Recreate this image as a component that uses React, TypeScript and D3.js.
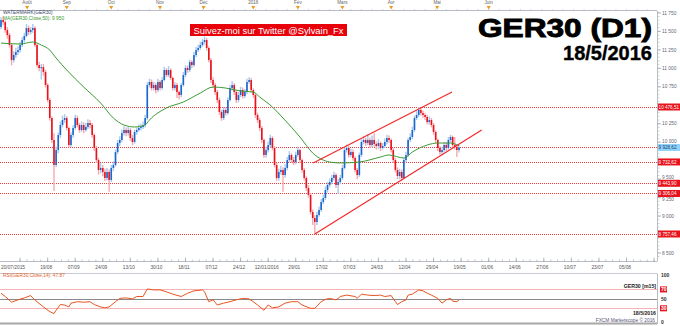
import React from 'react';
import * as d3 from 'd3';

// ---------- DATA ----------
const firstOpen = 11560;
const closes = [
  11653, 11626, 11518, 11450, 11315, 11112, 11180, 11220, 11247, 11315,
  11383, 11437, 11545, 11491, 11518, 11545, 11315, 11044, 11004, 11017,
  10950, 10774, 10571, 10327, 10030, 9691, 9894, 10098, 10233, 10300,
  10327, 10192, 9962, 10098, 10192, 10327, 10233, 10165, 10233, 10165,
  10206, 10260, 10233, 10098, 9922, 9759, 9624, 9651, 9597, 9516,
  9597, 9489, 9651, 9691, 9867, 9989, 10030, 10124, 10165, 10124,
  10165, 10057, 10003, 10138, 10165, 10192, 10206, 10233, 10327, 10774,
  10815, 10733, 10774, 10706, 10815, 10733, 10842, 10977, 10909, 10977,
  10869, 10733, 10774, 10679, 10639, 10774, 10909, 11004, 10977, 11085,
  11044, 11180, 11247, 11275, 11315, 11356, 11383, 11275, 11112, 10842,
  10774, 10679, 10571, 10409, 10327, 10436, 10395, 10571, 10733, 10774,
  10679, 10571, 10639, 10706, 10625, 10679, 10815, 10842, 10706, 10639,
  10368, 10300, 10192, 10030, 9827, 9894, 9962, 10057, 9922, 9691,
  9516, 9597, 9624, 9556, 9651, 9759, 9827, 9759, 9732, 9827,
  9894, 9759, 9624, 9516, 9380, 9286, 9056, 8974, 8920, 9015,
  9083, 9191, 9245, 9353, 9421, 9461, 9516, 9556, 9421, 9461,
  9516, 9651, 9894, 9922, 9827, 9867, 9786, 9624, 9556, 9827,
  10003, 10030, 9989, 10030, 9962, 10030, 9976, 9949, 9989, 9922,
  9949, 10003, 10057, 10030, 9894, 9759, 9624, 9543, 9597, 9516,
  9759, 9827, 10030, 10070, 10165, 10327, 10368, 10436, 10395, 10368,
  10341, 10273, 10300, 10233, 10138, 10030, 9922, 9867, 9894, 9962,
  9922, 10030, 10070, 9962, 9935, 9894, 9929
];
const highs = [
  11690, 11700, 11650, 11560, 11480, 11340, 11230, 11280, 11300, 11360,
  11420, 11480, 11600, 11580, 11560, 11600, 11570, 11340, 11090, 11060,
  11060, 10980, 10800, 10600, 10350, 10120, 9940, 10130, 10280, 10360,
  10380, 10350, 10210, 10130, 10230, 10370, 10360, 10260, 10280, 10270,
  10260, 10310, 10300, 10260, 10120, 9950, 9790, 9720, 9690, 9640,
  9650, 9630, 9690, 9740, 9900, 10030, 10080, 10170, 10220, 10200,
  10210, 10190, 10100, 10170, 10200, 10240, 10250, 10280, 10370, 10810,
  10860, 10850, 10820, 10800, 10860, 10840, 10880, 11020, 11000, 11030,
  11000, 10890, 10810, 10800, 10700, 10800, 10950, 11040, 11040, 11120,
  11110, 11220, 11290, 11320, 11360, 11400, 11430, 11410, 11300, 11140,
  10880, 10800, 10710, 10600, 10440, 10480, 10470, 10610, 10770, 10830,
  10800, 10700, 10680, 10750, 10740, 10720, 10860, 10880, 10870, 10730,
  10660, 10400, 10330, 10220, 10050, 9940, 10010, 10100, 10080, 9950,
  9720, 9640, 9680, 9660, 9700, 9800, 9880, 9850, 9800, 9870,
  9940, 9910, 9780, 9650, 9540, 9420, 9310, 9090, 9010, 9060,
  9130, 9230, 9290, 9400, 9460, 9510, 9560, 9600, 9580, 9500,
  9560, 9690, 9930, 9970, 9950, 9910, 9900, 9810, 9650, 9860,
  10040, 10080, 10060, 10110, 10060, 10090, 10120, 10010, 10040, 10010,
  9990, 10050, 10100, 10090, 10050, 9920, 9790, 9660, 9640, 9630,
  9790, 9870, 10060, 10120, 10210, 10360, 10420, 10476, 10470, 10430,
  10400, 10370, 10350, 10330, 10260, 10160, 10050, 9950, 9940, 10000,
  10000, 10070, 10100, 10090, 10070, 9960, 9960
];
const lows = [
  11530, 11590, 11480, 11400, 11280, 11040, 11080, 11140, 11180, 11210,
  11290, 11350, 11420, 11450, 11460, 11480, 11290, 11010, 10960, 10850,
  10900, 10740, 10540, 10290, 9990, 9340, 9660, 9850, 10060, 10200,
  10260, 10160, 9930, 9940, 10060, 10170, 10200, 10130, 10140, 10120,
  10140, 10180, 10190, 10060, 9880, 9720, 9560, 9580, 9540, 9470,
  9480, 9330, 9460, 9610, 9670, 9840, 9950, 10000, 10090, 10080,
  10090, 10020, 9960, 9980, 10100, 10140, 10160, 10180, 10200, 10300,
  10740, 10700, 10700, 10660, 10680, 10700, 10710, 10820, 10880, 10880,
  10840, 10700, 10700, 10600, 10580, 10610, 10750, 10880, 10940, 10950,
  11000, 11020, 11150, 11220, 11250, 11290, 11320, 11240, 11080, 10800,
  10730, 10640, 10530, 10370, 10290, 10300, 10360, 10370, 10550, 10700,
  10640, 10530, 10540, 10610, 10590, 10600, 10650, 10790, 10670, 10600,
  10330, 10260, 10150, 9990, 9790, 9790, 9860, 9930, 9890, 9660,
  9480, 9480, 9560, 9330, 9520, 9620, 9730, 9720, 9690, 9700,
  9800, 9720, 9590, 9480, 9340, 9250, 9020, 8880, 8757, 8880,
  8990, 9060, 9160, 9220, 9320, 9390, 9430, 9480, 9380, 9300,
  9430, 9490, 9630, 9860, 9790, 9800, 9750, 9590, 9500, 9530,
  9800, 9970, 9950, 9960, 9920, 9930, 9940, 9900, 9910, 9880,
  9900, 9920, 9970, 9990, 9860, 9720, 9590, 9500, 9500, 9480,
  9500, 9730, 9800, 10000, 10040, 10140, 10300, 10340, 10360, 10330,
  10300, 10240, 10240, 10200, 10100, 9990, 9880, 9830, 9820, 9860,
  9880, 9900, 10000, 9930, 9900, 9800, 9860
];

// 50-day moving average, read at selected bars
const maIdx = [0, 9, 15, 19, 23, 26, 31, 39, 47, 53, 58, 63, 68, 70, 78, 86, 94, 100, 106, 113, 119, 122, 128, 133, 141, 147, 155, 160, 169, 179, 183, 190, 194, 201, 206, 212, 216];
const maVal = [11342, 11329, 11356, 11315, 11247, 11139, 10977, 10747, 10530, 10327, 10233, 10206, 10233, 10300, 10463, 10544, 10666, 10747, 10733, 10693, 10679, 10612, 10476, 10327, 10070, 9854, 9732, 9719, 9732, 9800, 9827, 9786, 9867, 9962, 9989, 9989, 9950];

// RSI(14), read at selected bars
const rsiIdx = [0, 2, 5, 8, 11, 14, 15, 17, 20, 23, 25, 26, 28, 30, 32, 33, 36, 39, 42, 44, 47, 49, 51, 54, 56, 59, 62, 64, 67, 69, 72, 75, 78, 81, 85, 88, 91, 95, 96, 98, 100, 102, 105, 108, 111, 114, 117, 119, 121, 124, 126, 128, 131, 134, 137, 140, 142, 146, 148, 151, 153, 155, 158, 159, 160, 163, 167, 168, 170, 173, 176, 179, 181, 184, 186, 187, 189, 191, 192, 194, 197, 199, 201, 203, 206, 208, 210, 212, 213, 215, 216];
const rsiVal = [62, 55, 43, 48, 52, 57, 52, 44, 33, 23, 19, 26, 38, 37, 33, 41, 44, 43, 44, 38, 33, 31, 33, 44, 51, 52, 50, 55, 55, 71, 69, 69, 65, 60, 55, 62, 67, 69, 65, 44, 48, 37, 41, 44, 48, 51, 50, 44, 37, 26, 37, 31, 33, 41, 44, 44, 37, 30, 30, 44, 49, 51, 48, 51, 55, 58, 55, 51, 60, 58, 57, 58, 55, 57, 44, 38, 44, 48, 58, 60, 69, 67, 62, 58, 51, 41, 48, 51, 45, 44, 48];

const levels = [10476.51, 9928.62, 9732.62, 9443.90, 9306.04, 8757.46];
const currentLevel = 9928.62;

const channelUpper = [[147.2, 9719], [212.7, 10679]];
const channelLower = [[148, 8757], [226.7, 10165]];

const monthLabels = ['Août', 'Sep', 'Oct', 'Nov', 'Déc', '2016', 'Fév', 'Mars', 'Avr', 'Mai', 'Juin'];
const monthIdx = [12.3, 31, 52, 75, 95.5, 119, 140, 161, 184, 205.7, 230];

const firstDateLabel = '20/07/2015';
const dateLabels = ['19/08', '07/09', '24/09', '13/10', '30/10', '18/11', '07/12', '24/12', '12/01/2016', '29/01', '17/02', '07/03', '24/03', '12/04', '29/04', '19/05', '01/06', '14/06', '27/06', '10/07', '23/07', '05/08'];

const rsiLevels = [70, 50, 30];

// ---------- LAYOUT ----------
const W = 680, H = 326;
const PR = 657; // plot right
const PT = 11, PB = 258;
const FONT = "'Liberation Sans', Arial, sans-serif";

const fmtLevel = (v: number) => {
  const s = v.toFixed(2).split('.');
  return d3.format(',')(+s[0]).replace(/,/g, ' ') + ',' + s[1];
};
const fmtTick = (v: number) => d3.format(',')(v).replace(/,/g, ' ');
const crisp = (v: number) => Math.round(v) + 0.5;

export default function App() {
  const x = d3.scaleLinear().domain([0, closes.length - 1]).range([1, 459]);
  const y = d3.scaleLinear().domain([8757.46, 10476.51]).range([234, 107]);
  const ry = d3.scaleLinear().domain([0, 100]).range([322.5, 275.25]);

  const maLine = d3.line<number>().x((_, i) => x(maIdx[i])).y(d => y(d)).curve(d3.curveMonotoneX)(maVal) || '';
  const rsiLine = d3.line<number>().x((_, i) => x(rsiIdx[i])).y(d => ry(d))(rsiVal) || '';
  const chan = (pts: number[][]) => d3.line<number[]>().x(p => x(p[0])).y(p => y(p[1]))(pts) || '';

  const priceTicks = d3.range(8500, 11751, 250);
  const minorTicks = d3.range(8450, 11800, 50);
  const dateTicks = d3.range(9, 320, 13).filter(i => x(i) < PR);
  const dateMinor = d3.range(9, 320, 13 / 4).filter(i => x(i) < PR && x(i) > 0);
  const weekTicks = d3.range(0, 320, 5).filter(i => x(i) < PR);

  const tickLabelY = (v: number): number | null => {
    const ty = y(v);
    let best: number | null = ty;
    for (const lv of levels) {
      const ly = y(lv);
      const d = ty - ly;
      if (Math.abs(d) < 3.6) return null;
      if (Math.abs(d) < 6.2) best = ly + Math.sign(d) * 6.2;
    }
    return best;
  };

  return (
    <svg width={W} height={H} style={{ position: 'fixed', left: 0, top: 0, background: '#fff' }} fontFamily={FONT}>
      <defs>
        <clipPath id="plot"><rect x={0} y={PT} width={PR} height={PB - PT} /></clipPath>
      </defs>
      <rect x={0} y={0} width={W} height={H} fill="#fff" />

      {/* top month strip */}
      <line x1={0} x2={PR} y1={10.5} y2={10.5} stroke="#b8bcc4" strokeWidth={1} />
      {weekTicks.map((i, k) => (
        <line key={'wt' + k} x1={x(i)} x2={x(i)} y1={10.5} y2={9} stroke="#b8bcc4" strokeWidth={0.6} />
      ))}
      {monthLabels.map((m, k) => (
        <g key={'m' + k}>
          <text x={x(monthIdx[k])} y={4} fontSize={4.6} fill="#666" textAnchor="middle">{m}</text>
          <path d={`M${x(monthIdx[k]) - 2},6 L${x(monthIdx[k]) + 2},6 L${x(monthIdx[k])},9.5 Z`} fill="#f29a1d" />
        </g>
      ))}

      {/* level lines */}
      {levels.map((v, k) => (
        <line key={'lv' + k} x1={0} x2={PR} y1={crisp(y(v))} y2={crisp(y(v))} stroke="#f03a3a" strokeWidth={1} strokeDasharray="1 1" />
      ))}

      <g clipPath="url(#plot)">
        {/* candles */}
        {closes.map((c, i) => {
          const o = i === 0 ? firstOpen : closes[i - 1];
          const up = c >= o;
          const top = y(Math.max(o, c));
          const bot = y(Math.min(o, c));
          const cx = x(i);
          return (
            <g key={'c' + i}>
              <line x1={cx} x2={cx} y1={y(highs[i])} y2={y(lows[i])} stroke={up ? '#a9c9ee' : '#f6a9ae'} strokeWidth={1.4} />
              <rect x={cx - 0.8} y={top} width={1.6} height={Math.max(1, bot - top)} fill={up ? '#1a66cc' : '#e8121c'} />
            </g>
          );
        })}
        {/* MA */}
        <path d={maLine} fill="none" stroke="#3c9a33" strokeWidth={1} />
        {/* channel */}
        <path d={chan(channelUpper)} fill="none" stroke="#f22a2a" strokeWidth={1.2} />
        <path d={chan(channelLower)} fill="none" stroke="#f22a2a" strokeWidth={1.2} />
      </g>

      {/* top-left labels */}
      <text x={3} y={14} fontSize={4.8} fill="#3a4a6a">WATERMARK(GER30)</text>
      <text x={3} y={20} fontSize={4.8} fill="#3c9a33">MA(GER30,Close,50): 9 950</text>

      {/* twitter box */}
      <rect x={190} y={24} width={157} height={12} fill="#e8000b" />
      <text x={268.5} y={33.5} fontSize={9.4} fill="#fff" textAnchor="middle">Suivez-moi sur Twitter @Sylvain_Fx</text>

      {/* title */}
      <text x={652} y={37} fontSize={26} fontWeight="bold" textAnchor="end" fill="#000" stroke="#000" strokeWidth={0.9}
        textLength={174} lengthAdjust="spacingAndGlyphs">GER30 (D1)</text>
      <text x={652} y={60} fontSize={20} fontWeight="bold" textAnchor="end" fill="#000" stroke="#000" strokeWidth={0.4}>18/5/2016</text>

      {/* right price axis */}
      <line x1={PR + 0.5} x2={PR + 0.5} y1={PT} y2={261.5} stroke="#b8bcc4" strokeWidth={1} />
      {minorTicks.filter(v => y(v) > PT && y(v) < PB).map((v, k) => (
        <line key={'mt' + k} x1={PR + 1} x2={PR + 2.5} y1={y(v)} y2={y(v)} stroke="#9aa" strokeWidth={0.5} />
      ))}
      {priceTicks.map((v, k) => {
        const ly = tickLabelY(v);
        return (
          <g key={'pt' + k}>
            <line x1={PR + 1} x2={PR + 4} y1={y(v)} y2={y(v)} stroke="#889" strokeWidth={0.6} />
            {ly !== null && <text x={PR + 5} y={ly + 1.7} fontSize={4.8} fill="#667">{fmtTick(v)}</text>}
          </g>
        );
      })}
      {levels.map((v, k) => {
        const cur = v === currentLevel;
        return (
          <g key={'lb' + k}>
            <rect x={PR + 1} y={y(v) - 3.5} width={W - PR - 1} height={7} fill={cur ? '#8fd4f8' : '#e8121c'} />
            <text x={PR + 1.6} y={y(v) + 1.7} fontSize={4.6} fill={cur ? '#1a3a7a' : '#fff'}>{fmtLevel(v)}</text>
          </g>
        );
      })}

      {/* date axis */}
      <line x1={0} x2={PR} y1={261.5} y2={261.5} stroke="#b8bcc4" strokeWidth={1} />
      {dateMinor.map((i, k) => (
        <line key={'dm' + k} x1={x(i)} x2={x(i)} y1={261.5} y2={259.5} stroke="#9aa0a8" strokeWidth={0.6} />
      ))}
      {dateTicks.map((i, k) => (
        <line key={'dt' + k} x1={x(i)} x2={x(i)} y1={261.5} y2={257.5} stroke="#9aa0a8" strokeWidth={0.7} />
      ))}
      <text x={1} y={269} fontSize={4.8} fill="#555">{firstDateLabel}</text>
      {dateLabels.map((d, k) => (
        <text key={'dl' + k} x={x(dateTicks[k + 1]) - 1.5} y={269} fontSize={4.8} fill="#555" textAnchor="middle">{d}</text>
      ))}

      {/* RSI panel */}
      <line x1={0} x2={PR} y1={273.5} y2={273.5} stroke="#c8ccd2" strokeWidth={1} />
      <text x={3} y={277} fontSize={4.8} fill="#e0602a">RSI(GER30,Close,14): 47.87</text>
      {rsiLevels.map((v, k) => (
        <line key={'rl' + k} x1={0} x2={PR} y1={crisp(ry(v))} y2={crisp(ry(v))} stroke={v === 50 ? '#8a8a8a' : '#f7b4b4'} strokeWidth={1} />
      ))}
      <line x1={0} x2={PR} y1={323.5} y2={323.5} stroke="#a8a8a8" strokeWidth={2} />
      <path d={rsiLine} fill="none" stroke="#e8531f" strokeWidth={1} />
      <line x1={PR + 0.5} x2={PR + 0.5} y1={273.5} y2={324} stroke="#b8bcc4" strokeWidth={1} />
      <text x={PR - 1} y={288} fontSize={5.2} fontWeight="bold" fill="#222" textAnchor="end">GER30 [m15]</text>
      <text x={PR - 1} y={315} fontSize={5.2} fontWeight="bold" fill="#222" textAnchor="end">18/5/2016</text>
      <text x={PR - 2} y={322} fontSize={4.8} fill="#557" textAnchor="end">FXCM Marketscope © 2016</text>
      {[100, 70, 50, 30, 0].map((v, k) => {
        const box = v === 70 || v === 30;
        return (
          <g key={'rt' + k}>
            {box && <rect x={PR + 3} y={ry(v) - 3} width={7} height={6} fill="#e8121c" />}
            <text x={PR + 4} y={ry(v) + 1.8} fontSize={5} fontWeight="bold" fill={box ? '#fff' : '#333'}>{v}</text>
          </g>
        );
      })}
    </svg>
  );
}
